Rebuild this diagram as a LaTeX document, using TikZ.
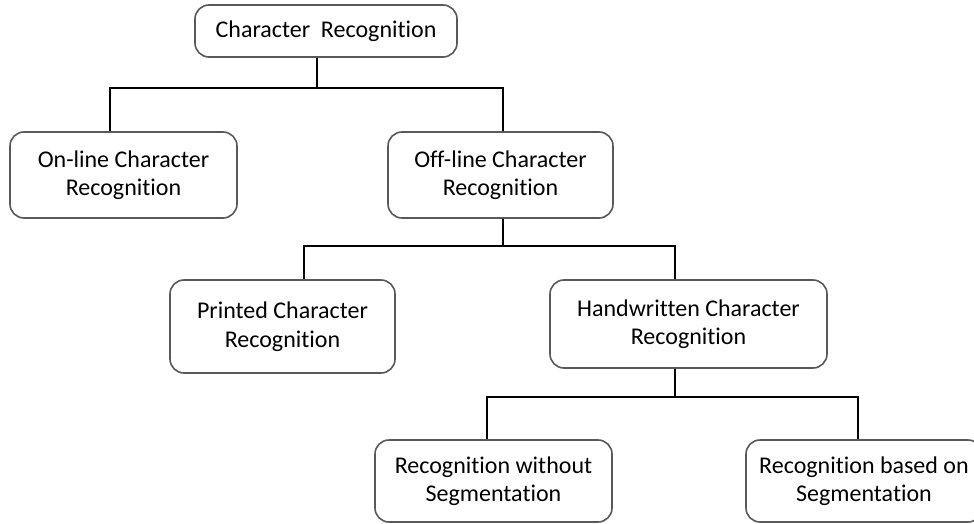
\documentclass[tikz,border=0pt]{standalone}
\usepackage{fontspec}
\setmainfont{Carlito}[Ligatures=NoCommon]
\usepackage{tikz}
\usetikzlibrary{calc, positioning}

\begin{document}
\begin{tikzpicture}[x=1pt, y=-1pt,
    roundednode/.style={rectangle, rounded corners=14pt, draw=black!65, line width=1.6pt, fill=white,
      align=center, font=\fontsize{24}{28.5}\selectfont, inner sep=0pt},
    link/.style={draw=black, line width=1.5pt},
    ]
    \useasboundingbox[fill=white] (0,0) rectangle (974,524);
    %Nodes
    \node[roundednode, minimum width=262pt, minimum height=52pt] (charrec)     at (326,31)    {Character\ \ Recognition};
    \node[roundednode, minimum width=227pt, minimum height=86pt] (online)      at (123.5,175) {On-line Character\\Recognition};
    \node[roundednode, minimum width=225pt, minimum height=86pt] (offline)     at (500.5,175) {Off-line Character\\Recognition};
    \node[roundednode, minimum width=225pt, minimum height=93pt] (printed)     at (282.5,326.5) {Printed Character\\Recognition};
    \node[roundednode, minimum width=277pt, minimum height=88pt] (handwritten) at (688.5,324) {Handwritten Character\\Recognition};
    \node[roundednode, minimum width=237pt, minimum height=82pt] (withoutseg)  at (493.5,481) {Recognition without\\Segmentation};
    \node[roundednode, minimum width=236pt, minimum height=82pt] (basedseg)    at (864,481)   {Recognition based on\\Segmentation};

    %Lines
    \draw[link] ([xshift=-9pt]charrec.south) -- ++(0,30) -| ([xshift=-13.5pt]online.north);
    \draw[link] ([xshift=-9pt]charrec.south) -- ++(0,30) -| ([xshift=2.5pt]offline.north);
    \draw[link] ([xshift=2.5pt]offline.south) -- ++(0,27) -| ([xshift=21.5pt]printed.north);
    \draw[link] ([xshift=2.5pt]offline.south) -- ++(0,27) -| ([xshift=-13.5pt]handwritten.north);
    \draw[link] ([xshift=-13.5pt]handwritten.south) -- ++(0,28) -| ([xshift=-6.5pt]withoutseg.north);
    \draw[link] ([xshift=-13.5pt]handwritten.south) -- ++(0,28) -| ([xshift=-6pt]basedseg.north);
  \end{tikzpicture}
\end{document}
